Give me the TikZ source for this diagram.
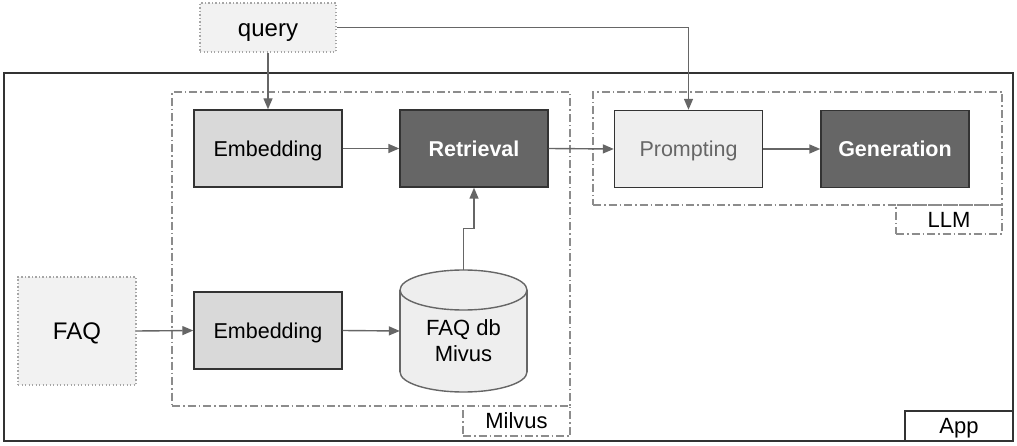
\documentclass[tikz,border=0pt]{standalone}
\usepackage{fontspec}
\setmainfont{Liberation Sans}
\usetikzlibrary{arrows.meta}
\definecolor{boxdark}{HTML}{333333}
\definecolor{arrgray}{HTML}{666666}
\definecolor{ddgray}{HTML}{8C8C8C}
\definecolor{emfill}{HTML}{D9D9D9}
\definecolor{darkfill}{HTML}{666666}
\definecolor{lightfill}{HTML}{EEEEEE}
\definecolor{palefill}{HTML}{F2F2F2}
\definecolor{dotgray}{HTML}{A6A6A6}
\tikzset{
  txt/.style={font=\fontsize{21.5}{25}\selectfont, text height=15.4pt, text depth=0pt},
  lbltxt/.style={font=\fontsize{22}{26}\selectfont, text height=15.8pt, text depth=0pt},
  procbox/.style={draw=boxdark, line width=1.4pt, minimum width=148pt, minimum height=77pt, inner sep=0pt, txt},
  embbox/.style={procbox, fill=emfill, text=black},
  darkbox/.style={procbox, fill=darkfill, text=white, font=\fontsize{21.5}{25}\selectfont\bfseries},
  promptbox/.style={procbox, fill=lightfill, text=arrgray},
  dotbox/.style={draw=dotgray, line width=1.2pt, dash pattern=on 1.3pt off 2.2pt, fill=palefill, inner sep=0pt, font=\fontsize{24}{28}\selectfont, text height=17.2pt, text depth=0pt},
  container/.style={draw=ddgray, line width=1.2pt, dash pattern=on 8pt off 3pt on 1.5pt off 3pt, inner sep=0pt},
  arr/.style={draw=arrgray, line width=1.4pt, -{Triangle[length=11pt,width=9pt]}},
}
\begin{document}
\begin{tikzpicture}[x=1pt,y=-1pt]
\useasboundingbox (0,0) rectangle (1017,446);
% App container
\node[draw=boxdark, line width=1.8pt, minimum width=1009pt, minimum height=368pt, inner sep=0pt] (app) at (508.5,257) {};
\node[draw=boxdark, line width=1.4pt, minimum width=108pt, minimum height=30pt, inner sep=0pt, lbltxt] (applbl) at (959,426) {App};
% Milvus container
\node[container, minimum width=398pt, minimum height=314pt] (milvus) at (371,249) {};
\node[container, minimum width=107pt, minimum height=30pt, lbltxt] (milvuslbl) at (516.5,421) {Milvus};
% LLM container
\node[container, minimum width=409pt, minimum height=113pt] (llm) at (797.5,148.5) {};
\node[container, minimum width=106pt, minimum height=29pt, lbltxt] (llmlbl) at (949,219.5) {LLM};
% query
\node[dotbox, minimum width=136pt, minimum height=49pt] (query) at (268,27.5) {query};
% FAQ
\node[dotbox, minimum width=118pt, minimum height=108pt] (faq) at (77,331) {FAQ};
% process boxes
\node[embbox] (emb1) at (268,148.5) {Embedding};
\node[darkbox] (retr) at (474,148.5) {Retrieval};
\node[promptbox] (prompt) at (688.5,149) {Prompting};
\node[darkbox] (gen) at (895,149) {Generation};
\node[embbox] (emb2) at (268,330.5) {Embedding};
% cylinder
\filldraw[fill=lightfill, draw=arrgray, line width=1.4pt] (463.5,372) ellipse [x radius=63.5, y radius=20];
\fill[lightfill] (400,290) rectangle (527,372);
\draw[arrgray, line width=1.4pt] (400,290) -- (400,372) (527,290) -- (527,372);
\filldraw[fill=lightfill, draw=arrgray, line width=1.4pt] (463.5,290) ellipse [x radius=63.5, y radius=20];
\node[inner sep=0pt, minimum width=127pt, minimum height=122pt] (db) at (463.5,331) {};
\node[align=center, font=\fontsize{22}{26}\selectfont, inner sep=0pt] (dbtext) at (463.5,341) {FAQ db\\Mivus};
% connectors
\draw[arr] (query.south) -- (emb1.north);
\draw[arr] (query.east) -| (prompt.north);
\draw[arr] (emb1.east) -- (retr.west);
\draw[arr] (retr.east) -- (prompt.west);
\draw[arr] (prompt.east) -- (gen.west);
\draw[arr] (faq.east) -- (emb2.west);
\draw[arr] (emb2.east) -- (db.west);
\draw[arr] (db.north) -- ++(0,-41) -| (retr.south);
\end{tikzpicture}
\end{document}
